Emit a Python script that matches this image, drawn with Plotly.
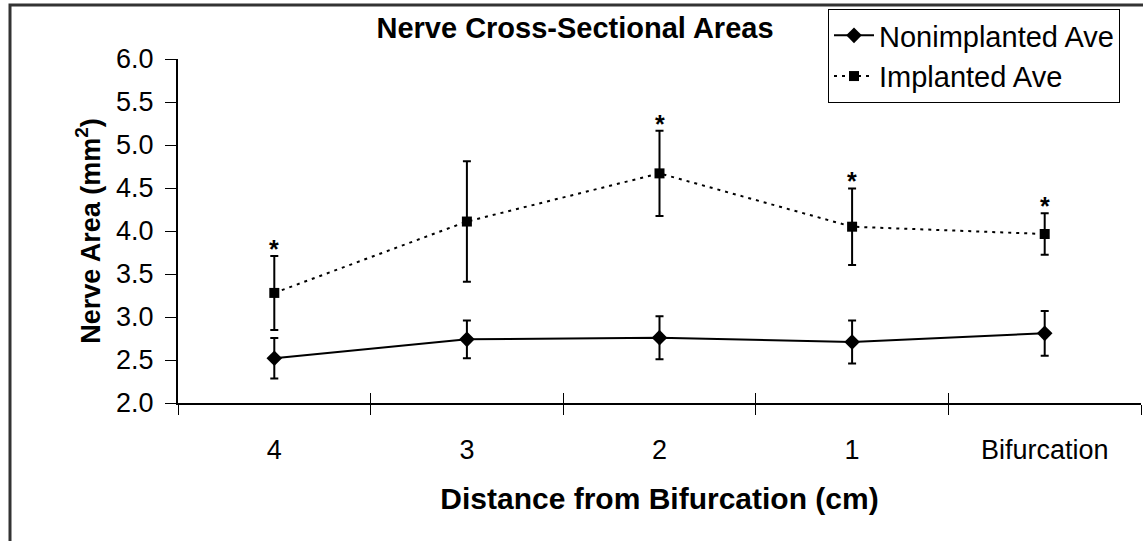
import plotly.graph_objects as go

categories = ["4", "3", "2", "1", "Bifurcation"]
nonimplanted_mean = [2.52, 2.74, 2.76, 2.71, 2.81]
nonimplanted_err = [0.235, 0.22, 0.25, 0.25, 0.26]
implanted_mean = [3.28, 4.11, 4.67, 4.05, 3.965]
implanted_err = [0.43, 0.70, 0.495, 0.445, 0.24]
significant = [True, False, True, True, True]

FONT = "Liberation Sans, Arial, sans-serif"

fig = go.Figure()

fig.add_trace(go.Scatter(
    x=categories, y=nonimplanted_mean, name="Nonimplanted Ave",
    mode="lines+markers",
    line=dict(color="black", width=2),
    marker=dict(symbol="diamond", size=12, color="black"),
    error_y=dict(type="data", array=nonimplanted_err, visible=True,
                 color="black", thickness=2, width=4),
))
fig.add_trace(go.Scatter(
    x=categories, y=implanted_mean, name="Implanted Ave",
    mode="lines+markers",
    line=dict(color="black", width=2, dash="3px,5px"),
    marker=dict(symbol="square", size=10, color="black"),
    error_y=dict(type="data", array=implanted_err, visible=True,
                 color="black", thickness=2, width=4),
))
# invisible trace for the inner half of the crossing x ticks
fig.add_trace(go.Scatter(
    x=categories, y=nonimplanted_mean, xaxis="x2", mode="lines",
    line=dict(width=0), opacity=0, showlegend=False, hoverinfo="skip",
))

for i, (m, e, s) in enumerate(zip(implanted_mean, implanted_err, significant)):
    if s:
        fig.add_annotation(x=i, y=m + e, xref="x", yref="y", text="<b>*</b>",
                           showarrow=False, yanchor="bottom", yshift=-9,
                           font=dict(family=FONT, size=25, color="black"))

fig.update_layout(
    width=1143, height=541,
    margin=dict(l=178, r=2, t=59, b=138),
    paper_bgcolor="white", plot_bgcolor="white",
    font=dict(family=FONT, color="black"),
    title=dict(text="<b>Nerve Cross-Sectional Areas</b>", x=575 / 1143,
               xanchor="center", y=1 - 28 / 541, yanchor="middle",
               font=dict(size=29, family=FONT)),
    showlegend=True,
    legend=dict(x=(828 - 178) / 963, xanchor="left", y=(403 - 9) / 344,
                yanchor="top", bordercolor="black", borderwidth=1,
                bgcolor="white", font=dict(size=29, family=FONT),
                tracegroupgap=0, itemwidth=40),
    xaxis=dict(type="category", categoryarray=categories, tickson="boundaries",
               ticks="outside", ticklen=10, tickcolor="black", tickwidth=1,
               showline=True, linecolor="black", linewidth=2,
               showgrid=False, zeroline=False, range=[-0.5, 4.5],
               tickfont=dict(size=27, family=FONT), ticklabelstandoff=22,
               title=dict(text="<b>Distance from Bifurcation (cm)</b>",
                          font=dict(size=30, family=FONT), standoff=24)),
    xaxis2=dict(type="category", categoryarray=categories, tickson="boundaries",
                overlaying="x", matches="x", anchor="y", side="bottom",
                ticks="inside", ticklen=10, tickcolor="black", tickwidth=1,
                showticklabels=False, showline=False, showgrid=False,
                range=[-0.5, 4.5]),
    yaxis=dict(range=[2.0, 6.0], tickvals=[2.0, 2.5, 3.0, 3.5, 4.0, 4.5, 5.0, 5.5, 6.0],
               ticktext=["2.0", "2.5", "3.0", "3.5", "4.0", "4.5", "5.0", "5.5", "6.0"],
               ticks="outside", ticklen=11, tickcolor="black", tickwidth=1,
               showline=True, linecolor="black", linewidth=2,
               showgrid=False, zeroline=False,
               tickfont=dict(size=27, family=FONT), ticklabelstandoff=6,
               title=dict(text="<b>Nerve Area (mm<sup>2</sup>)</b>",
                          font=dict(size=27, family=FONT), standoff=8)),
)

# outer frame of the figure
fig.add_shape(type="rect", xref="paper", yref="paper",
              x0=(10 - 178) / 963, x1=(1160 - 178) / 963,
              y0=(403 - 560) / 344, y1=(403 - 5) / 344,
              line=dict(color="#333333", width=3), layer="below")

fig.write_html("out.html")
